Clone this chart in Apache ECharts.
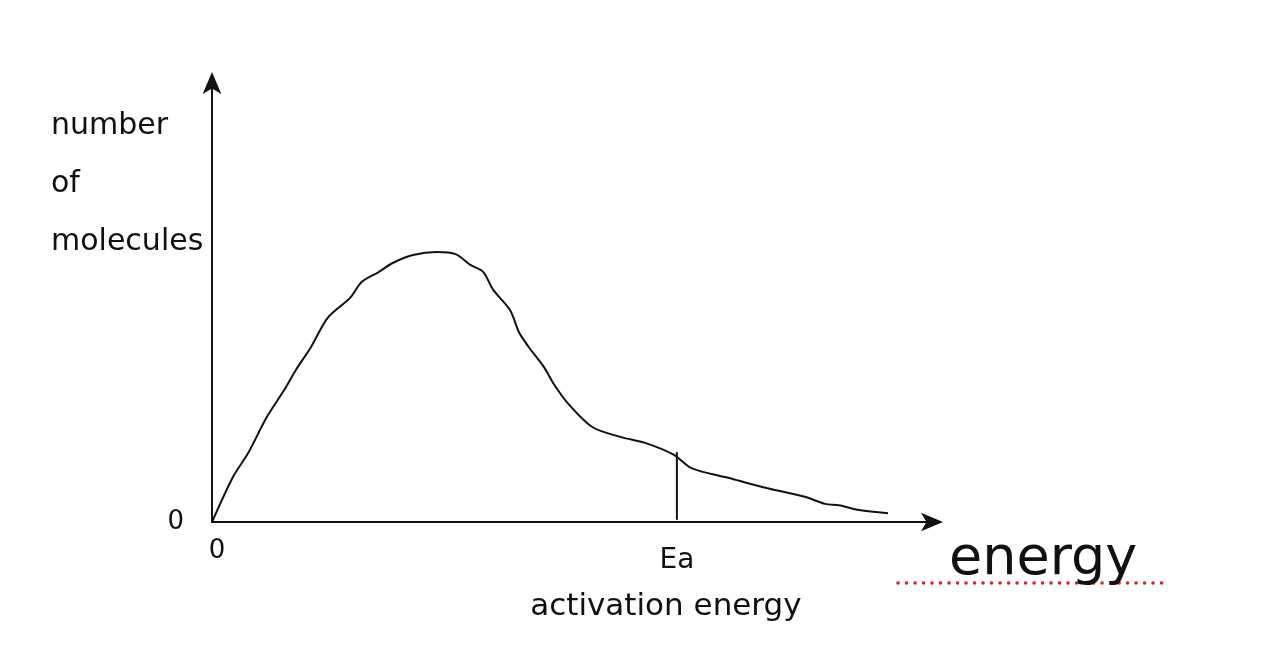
<!DOCTYPE html>
<html>
<head>
<meta charset="utf-8">
<script src="https://cdn.jsdelivr.net/npm/echarts@6/dist/echarts.min.js"></script>
<style>html,body{margin:0;padding:0;background:#fff}#c{width:1284px;height:665px}</style>
</head>
<body>
<div id="c"></div>
<script>
// energy (x, arbitrary units) and number of molecules (y, arbitrary units)
const energy = [0, 2.9, 5.0, 7.6, 10.0, 11.6, 13.7, 16.0, 19.1, 20.7, 23.1, 25.0, 27.8, 31.1, 33.7, 35.8, 37.5, 38.9, 41.2, 42.5, 43.8, 45.9, 47.2, 49.2, 52.6, 56.6, 59.9, 63.9, 66.3, 71.4, 76.1, 82.0, 84.8, 86.7, 89.5, 93.5];
const molecules = [0, 10.2, 15.6, 23.8, 29.9, 34.4, 39.6, 46.2, 50.7, 54.3, 56.6, 58.6, 60.4, 61.1, 60.6, 58.1, 56.6, 52.5, 48.0, 42.8, 39.6, 35.1, 31.4, 26.9, 21.5, 19.2, 17.9, 15.2, 12.2, 10.0, 7.9, 5.7, 4.1, 3.8, 2.7, 2.0];
const eaEnergy = 64.3;
const eaMarkerTop = 15.8;
const xTickValues = [0, 64.3];
const xTickLabels = ['0', 'Ea'];
const eaSubLabel = 'activation energy';
const yTickValues = [0];
const yTickLabels = ['0'];
const yAxisTitle = 'number\nof\nmolecules';
const xAxisTitle = 'energy';

const FONT = '"DejaVu Sans", sans-serif';
const INK = '#111111';
const chart = echarts.init(document.getElementById('c'), null, {renderer: 'canvas'});
chart.setOption({
  backgroundColor: '#ffffff',
  animation: false,
  grid: {left: 212, right: 349, top: 80, bottom: 143},
  xAxis: {
    type: 'value', min: 0, max: 100,
    splitLine: {show: false},
    axisTick: {show: false},
    axisLine: {show: true, lineStyle: {color: INK, width: 2}, symbol: ['none', 'arrow'], symbolSize: [14, 22], symbolOffset: [0, 8]},
    axisLabel: {
      customValues: xTickValues,
      margin: 16,
      color: INK,
      fontSize: 26,
      fontFamily: FONT,
      formatter: function (v) {
        const i = xTickValues.indexOf(v);
        if (i === 1) return '{ea|' + xTickLabels[i] + '}\n{sub|' + eaSubLabel + '}';
        return '{z|' + (i >= 0 ? xTickLabels[i] : '') + '}';
      },
      rich: {
        z: {fontSize: 26, fontFamily: FONT, color: INK, padding: [0, 0, 0, 10]},
        ea: {fontSize: 28, fontFamily: FONT, color: INK, lineHeight: 46},
        sub: {fontSize: 31, fontFamily: FONT, color: INK, lineHeight: 46, padding: [0, 0, 0, -22]}
      }
    }
  },
  yAxis: {
    type: 'value', min: 0, max: 100,
    splitLine: {show: false},
    axisTick: {show: false},
    axisLine: {show: true, lineStyle: {color: INK, width: 2}, symbol: ['none', 'arrow'], symbolSize: [14, 22], symbolOffset: [0, 8]},
    axisLabel: {
      customValues: yTickValues,
      margin: 28,
      color: INK,
      fontSize: 26,
      fontFamily: FONT,
      padding: [18, 0, 0, 0],
      formatter: function (v) { const i = yTickValues.indexOf(v); return i >= 0 ? yTickLabels[i] : ''; }
    }
  },
  title: [
    {text: yAxisTitle, left: 46, top: 92,
     textStyle: {fontSize: 30, fontWeight: 'normal', fontFamily: FONT, color: INK, lineHeight: 58}},
    {text: xAxisTitle, left: 944, top: 528,
     textStyle: {fontSize: 54, fontWeight: 'normal', fontFamily: FONT, color: INK}}
  ],
  graphic: [
    {type: 'line', shape: {x1: 898, y1: 583, x2: 1163, y2: 583},
     style: {stroke: '#d42424', lineWidth: 3.5, lineDash: [0.1, 8.4], lineCap: 'round'}}
  ],
  series: [
    {type: 'line', data: energy.map((e, i) => [e, molecules[i]]), smooth: 0.3, showSymbol: false,
     lineStyle: {color: INK, width: 2}},
    {type: 'line', data: [[eaEnergy, 0.5], [eaEnergy, eaMarkerTop]], showSymbol: false,
     lineStyle: {color: INK, width: 2}}
  ]
});
</script>
</body>
</html>
